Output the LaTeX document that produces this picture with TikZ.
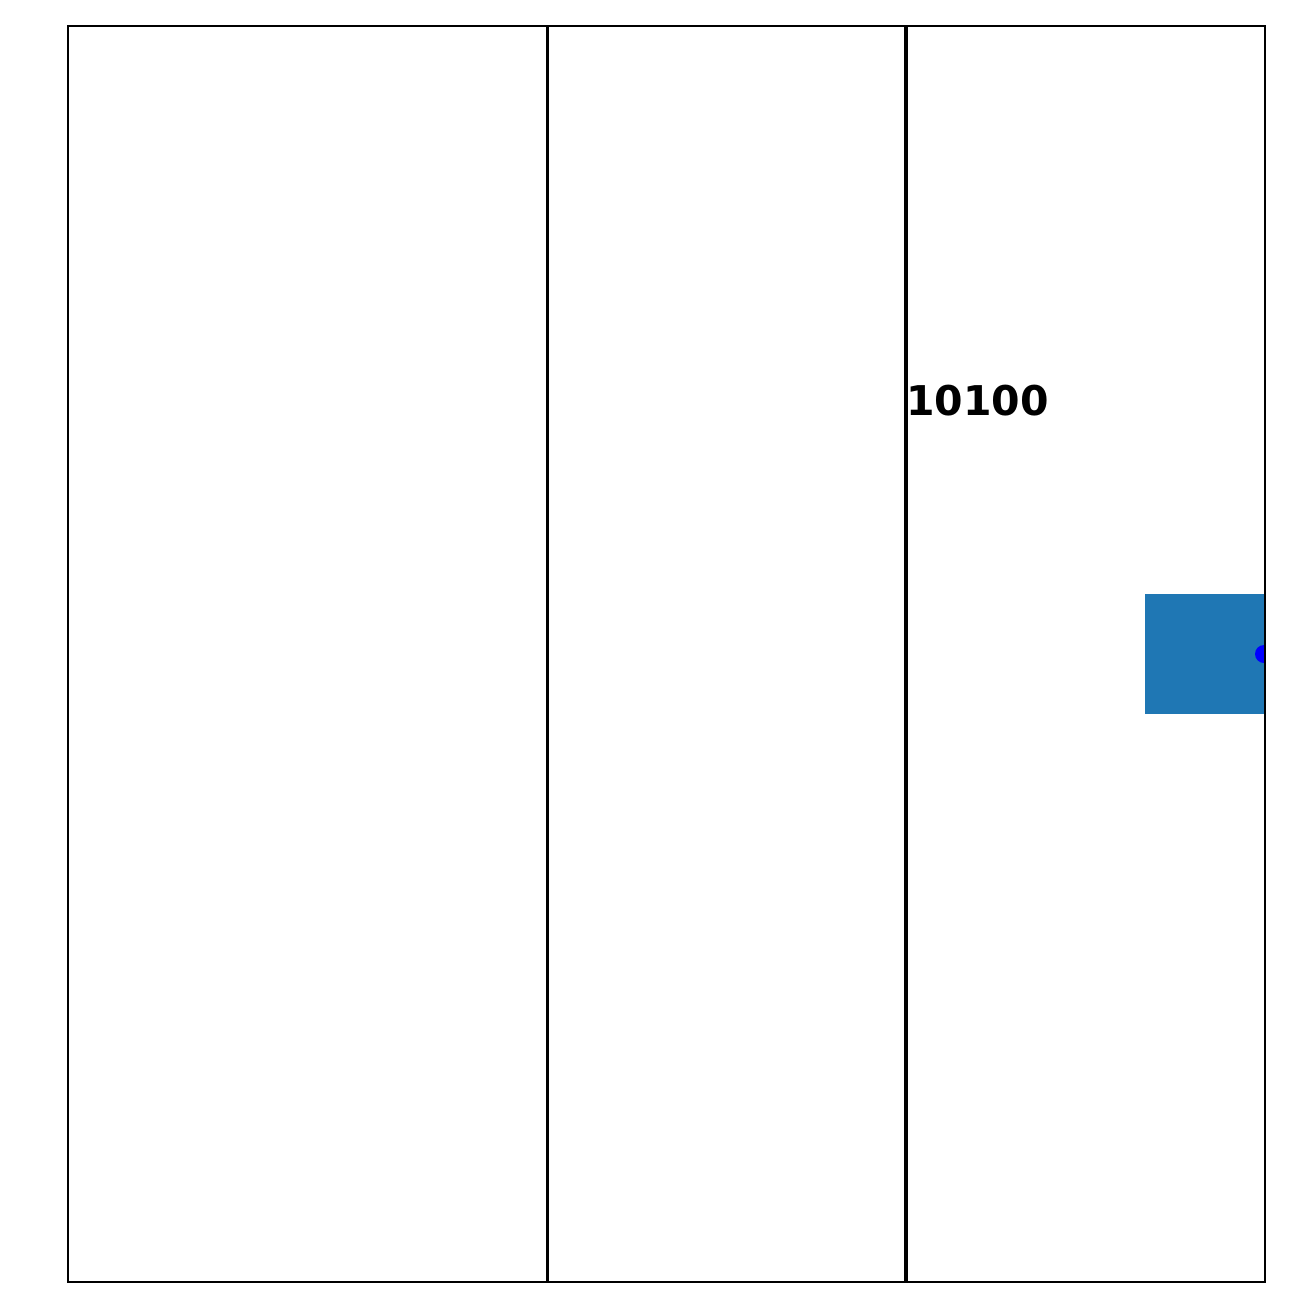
\documentclass[tikz,border=0pt]{standalone}
\usepackage{fontspec}
\setmainfont{DejaVu Sans}
\tikzset{
  frame/.style={draw=black, line width=2pt},
  divider/.style={draw=black, line width=3.2pt},
  label/.style={font=\bfseries\fontsize{41}{48}\selectfont, anchor=base west, inner sep=0pt}
}
\definecolor{patchblue}{HTML}{1F77B4}
\begin{document}
\begin{tikzpicture}[x=1pt, y=-1pt]
\useasboundingbox (0,0) rectangle (1298,1299);
\fill[white] (0,0) rectangle (1298,1299);
\coordinate (tl) at (68,26);
\coordinate (br) at (1264.5,1282);
\fill[patchblue] (1145,594) rectangle (1264.5,714);
\begin{scope}
\clip (tl) rectangle (br);
\fill[blue] (1264,654) circle (9);
\end{scope}
\node[label] (t) at (906,415) {10100};
\coordinate (d1t) at (547.5,26);
\coordinate (d1b) at (547.5,1282);
\coordinate (d2t) at (906,26);
\coordinate (d2b) at (906,1282);
\draw[divider] (d1t) -- (d1b);
\draw[divider] (d2t) -- (d2b);
\draw[frame] (tl) rectangle (br);
\end{tikzpicture}
\end{document}
